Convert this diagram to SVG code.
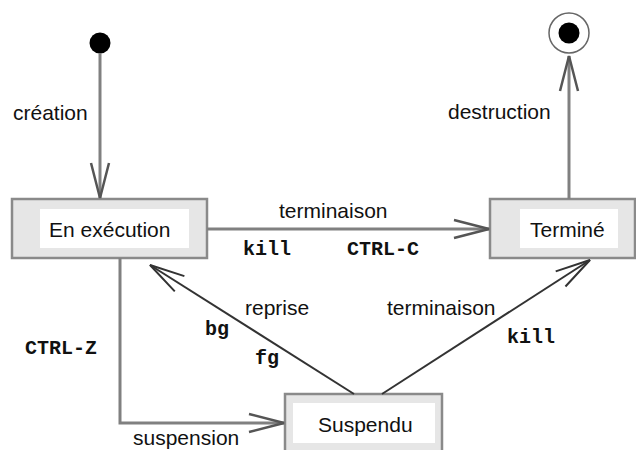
<svg xmlns="http://www.w3.org/2000/svg" width="636" height="450" viewBox="0 0 636 450">
  <style>
    .frame { fill: #e6e6e6; stroke: #8a8a8a; stroke-width: 2.5; }
    .inner { fill: #ffffff; stroke: none; }
    .name { font-family: "Liberation Sans", Arial, sans-serif; font-size: 21px; fill: #111; }
    .lbl { font-family: "Liberation Sans", Arial, sans-serif; font-size: 21px; fill: #111; }
    .cmd { font-family: "Liberation Mono", "Courier New", monospace; font-size: 20px; font-weight: bold; fill: #111; }
    .flow { fill: none; stroke: #808080; stroke-width: 3; }
    .diag { fill: none; stroke: #333; stroke-width: 2; }
  </style>
  <defs>
    <marker id="headGrey" markerUnits="userSpaceOnUse" markerWidth="40" markerHeight="24" viewBox="-37 -12 40 24" refX="0" refY="0" orient="auto">
      <path d="M-35,-9 L0,0 L-35,9" fill="none" stroke="#555" stroke-width="2.5"/>
    </marker>
    <marker id="headDark" markerUnits="userSpaceOnUse" markerWidth="40" markerHeight="24" viewBox="-37 -12 40 24" refX="0" refY="0" orient="auto">
      <path d="M-35,-9 L0,0 L-35,9" fill="none" stroke="#333" stroke-width="2"/>
    </marker>
  </defs>

  <!-- initial pseudo-state -->
  <g id="start">
    <circle cx="100" cy="43" r="10.5" fill="#000"/>
  </g>

  <!-- final pseudo-state -->
  <g id="end">
    <circle cx="569" cy="33" r="20" fill="#fff" stroke="#666" stroke-width="1.5"/>
    <circle cx="569" cy="33" r="10.5" fill="#000"/>
  </g>

  <!-- states -->
  <g id="execution">
    <rect class="frame" x="12" y="199" width="195" height="59"/>
    <rect class="inner" x="40" y="209" width="149" height="39"/>
    <text class="name" x="49" y="237">En exécution</text>
  </g>

  <g id="termine">
    <rect class="frame" x="490" y="199" width="145" height="59"/>
    <rect class="inner" x="520" y="209" width="98" height="39"/>
    <text class="name" x="530" y="237">Terminé</text>
  </g>

  <g id="suspendu">
    <rect class="frame" x="285" y="394" width="157" height="60"/>
    <rect class="inner" x="293" y="403" width="142" height="40"/>
    <text class="name" x="318" y="432">Suspendu</text>
  </g>

  <!-- transitions -->
  <g id="connectors">
    <line class="flow" x1="100" y1="53" x2="100" y2="198" marker-end="url(#headGrey)"/>
    <line class="flow" x1="207" y1="229" x2="489" y2="229" marker-end="url(#headGrey)"/>
    <line class="flow" x1="569" y1="199" x2="569" y2="56" marker-end="url(#headGrey)"/>
    <polyline class="flow" points="120,258 120,423 284,423" marker-end="url(#headGrey)"/>
    <line class="diag" x1="354" y1="394" x2="150" y2="265" marker-end="url(#headDark)"/>
    <line class="diag" x1="382" y1="394" x2="590" y2="260" marker-end="url(#headDark)"/>
  </g>

  <!-- transition labels -->
  <g id="labels">
    <text class="lbl" x="13" y="120">création</text>
    <text class="lbl" x="448" y="119">destruction</text>
    <text class="lbl" x="279" y="218">terminaison</text>
    <text class="cmd" x="243" y="255">kill</text>
    <text class="cmd" x="347" y="255">CTRL-C</text>
    <text class="cmd" x="25" y="354">CTRL-Z</text>
    <text class="lbl" x="133" y="445">suspension</text>
    <text class="lbl" x="245" y="315">reprise</text>
    <text class="cmd" x="205" y="335">bg</text>
    <text class="cmd" x="255" y="364">fg</text>
    <text class="lbl" x="387" y="315">terminaison</text>
    <text class="cmd" x="507" y="343">kill</text>
  </g>
</svg>
